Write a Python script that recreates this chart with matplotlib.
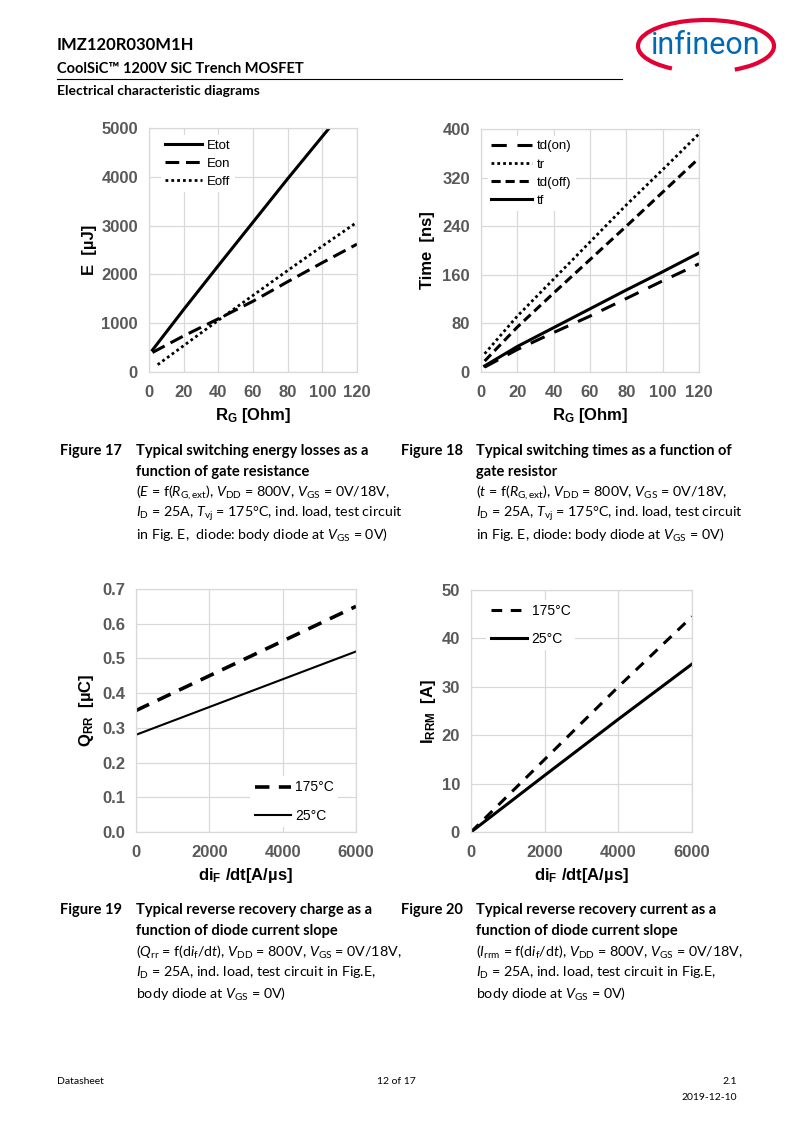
import matplotlib
matplotlib.use("Agg")
import matplotlib.pyplot as plt
from matplotlib.patches import Arc
from matplotlib.lines import Line2D

W, H = 793, 1122

plt.rcParams['font.family'] = ['Lato', 'DejaVu Sans']
plt.rcParams['mathtext.fontset'] = 'custom'
plt.rcParams['mathtext.rm'] = 'Lato'
plt.rcParams['mathtext.it'] = 'Lato:italic'
plt.rcParams['mathtext.bf'] = 'Lato:bold'

# ---- data ----
rg_etot = [2, 20, 40, 60, 80, 104]
etot = [450, 1280, 2180, 3070, 3960, 5000]
rg_eon = [2, 20, 40, 60, 80, 100, 120]
eon = [400, 740, 1090, 1450, 1850, 2240, 2620]
rg_eoff = [5, 20, 40, 60, 80, 100, 120]
eoff = [150, 540, 1060, 1570, 2080, 2580, 3070]

rg_t = [2, 20, 40, 60, 80, 100, 120]
td_on = [8, 37, 65, 92, 121, 150, 178]
t_r = [30, 92, 153, 214, 275, 333, 392]
td_off = [18, 74, 130, 185, 240, 296, 352]
t_f = [10, 42, 73, 104, 135, 165, 196]

didt = [0, 2000, 4000, 6000]
qrr_175 = [0.35, 0.45, 0.55, 0.65]
qrr_25 = [0.28, 0.36, 0.44, 0.52]
irrm_175 = [0, 15.0, 30.0, 44.5]
irrm_25 = [0, 11.7, 23.3, 34.7]

TICK_C = '#595959'
GRID_C = '#d9d9d9'
AX_FONT = 'Liberation Sans'


def px_axes(fig, x0, y0, x1, y1):
    return fig.add_axes([x0 / W, 1 - y1 / H, (x1 - x0) / W, (y1 - y0) / H])


def style(ax, xlim, ylim, xt, yt, yfmt=None):
    ax.set_xlim(*xlim)
    ax.set_ylim(*ylim)
    ax.set_xticks(xt)
    ax.set_yticks(yt)
    if yfmt:
        ax.set_yticklabels([yfmt.format(v) for v in yt])
    ax.grid(True, color=GRID_C, lw=0.9)
    ax.set_axisbelow(True)
    for s in ax.spines.values():
        s.set_color(GRID_C)
        s.set_linewidth(0.9)
    ax.tick_params(axis='x', length=0, pad=9.5, labelcolor=TICK_C, labelsize=12)
    ax.tick_params(axis='y', length=0, pad=8, labelcolor=TICK_C, labelsize=12)
    for lab in ax.get_xticklabels() + ax.get_yticklabels():
        lab.set_fontfamily(AX_FONT)
        lab.set_fontweight('bold')


def axlabels(ax, xl, yl, ylx, xly):
    ax.set_xlabel(xl, fontsize=12, fontweight='bold', family=AX_FONT)
    ax.set_ylabel(yl, fontsize=12, fontweight='bold', family=AX_FONT)
    ax.yaxis.set_label_coords(ylx, 0.5)
    ax.xaxis.set_label_coords(0.5, xly)


def legend(ax, loc, anchor, fs, hl, ls):
    leg = ax.legend(loc=loc, bbox_to_anchor=anchor, handlelength=hl,
                    labelspacing=ls, frameon=True, facecolor='white', edgecolor='none',
                    framealpha=1, borderpad=0.3, handletextpad=0.35, borderaxespad=0,
                    prop={'family': AX_FONT, 'size': fs})
    return leg


fig = plt.figure(figsize=(W / 100, H / 100), dpi=100)

# ---- Figure 17 ----
ax1 = px_axes(fig, 149, 128, 357, 372)
ax1.plot(rg_etot, etot, color='black', lw=2.2, label='Etot')
ax1.plot(rg_eon, eon, color='black', lw=2.2, dashes=(4.5, 2.2), label='Eon')
ax1.plot(rg_eoff, eoff, color='black', lw=2.0, dashes=(1, 1.1), label='Eoff')
style(ax1, (0, 120), (0, 5000), range(0, 121, 20), range(0, 5001, 1000))
axlabels(ax1, r'R$_\mathregular{G}$ [Ohm]', r'E  [µJ]', -0.25, -0.14)
legend(ax1, 'upper left', (0.06, 0.97), 9.5, 2.8, 0.45)

# ---- Figure 18 ----
ax2 = px_axes(fig, 481, 129, 699, 372)
ax2.plot(rg_t, td_on, color='black', lw=2.2, dashes=(5, 3.5), label='td(on)')
ax2.plot(rg_t, t_r, color='black', lw=2.0, dashes=(1, 1.1), label='tr')
ax2.plot(rg_t, td_off, color='black', lw=2.2, dashes=(3, 1.6), label='td(off)')
ax2.plot(rg_t, t_f, color='black', lw=2.2, label='tf')
style(ax2, (0, 120), (0, 400), range(0, 121, 20), range(0, 401, 80))
axlabels(ax2, r'R$_\mathregular{G}$ [Ohm]', r'Time  [ns]', -0.21, -0.14)
legend(ax2, 'upper left', (0.03, 0.97), 9.5, 3.1, 0.45)

# ---- Figure 19 ----
ax3 = px_axes(fig, 136, 589, 356, 832)
ax3.plot(didt, qrr_175, color='black', lw=2.6, dashes=(4, 2.6), label='175°C')
ax3.plot(didt, qrr_25, color='black', lw=1.5, label='25°C')
style(ax3, (0, 6000), (0, 0.7), range(0, 6001, 2000), [0, 0.1, 0.2, 0.3, 0.4, 0.5, 0.6, 0.7],
      yfmt='{:.1f}')
axlabels(ax3, r'di$_\mathregular{F}$ /dt[A/µs]', r'Q$_\mathregular{RR}$  [µC]', -0.18, -0.14)
legend(ax3, 'lower right', (0.92, 0.02), 10, 2.6, 1.05)

# ---- Figure 20 ----
ax4 = px_axes(fig, 471, 590, 692, 832)
ax4.plot(didt, irrm_175, color='black', lw=2.2, dashes=(3.5, 2.8), label='175°C')
ax4.plot(didt, irrm_25, color='black', lw=2.2, label='25°C')
style(ax4, (0, 6000), (0, 50), range(0, 6001, 2000), range(0, 51, 10))
axlabels(ax4, r'di$_\mathregular{F}$ /dt[A/µs]', r'I$_\mathregular{RRM}$  [A]', -0.15, -0.14)
legend(ax4, 'upper left', (0.07, 0.96), 10, 2.6, 1.0)

# ---- page header ----
def ptext(x, y, s, **kw):
    kw.setdefault('va', 'center')
    fig.text(x / W, 1 - y / H, s, **kw)

ptext(57, 45, 'IMZ120R030M1H', fontsize=12, fontweight='bold')
ptext(57, 69, 'CoolSiC™ 1200V SiC Trench MOSFET', fontsize=10.5, fontweight='bold')
fig.add_artist(Line2D([57 / W, 622 / W], [1 - 79 / H, 1 - 79 / H], color='black', lw=0.8))
ptext(57, 91, 'Electrical characteristic diagrams', fontsize=10, fontweight='bold')

# logo
ptext(706, 46, 'infineon', fontsize=22, color='#0069B4', ha='center', family='Roboto')
fig.add_artist(Arc((706 / W, 1 - 46 / H), 136 / W, 52 / H, theta1=-30, theta2=205,
                   transform=fig.transFigure, color='#E30034', lw=3))

# ---- captions ----
cap17 = [r'($E$ = f($R_{\mathrm{G,ext}}$), $V_{\mathrm{DD}}$ = 800V, $V_{\mathrm{GS}}$ = 0V/18V,',
         r'$I_{\mathrm{D}}$ = 25A, $T_{\mathrm{vj}}$ = 175°C, ind. load, test circuit',
         r'in Fig. E,  diode: body diode at $V_{\mathrm{GS}}$ = 0V)']
cap18 = [r'($t$ = f($R_{\mathrm{G,ext}}$), $V_{\mathrm{DD}}$ = 800V, $V_{\mathrm{GS}}$ = 0V/18V,',
         r'$I_{\mathrm{D}}$ = 25A, $T_{\mathrm{vj}}$ = 175°C, ind. load, test circuit',
         r'in Fig. E, diode: body diode at $V_{\mathrm{GS}}$ = 0V)']
cap19 = [r'($Q_{\mathrm{rr}}$ = f(d$i_{\mathrm{f}}$/d$t$), $V_{\mathrm{DD}}$ = 800V, $V_{\mathrm{GS}}$ = 0V/18V,',
         r'$I_{\mathrm{D}}$ = 25A, ind. load, test circuit in Fig.E,',
         r'body diode at $V_{\mathrm{GS}}$ = 0V)']
cap20 = [r'($I_{\mathrm{rrm}}$ = f(d$i_{\mathrm{f}}$/d$t$), $V_{\mathrm{DD}}$ = 800V, $V_{\mathrm{GS}}$ = 0V/18V,',
         r'$I_{\mathrm{D}}$ = 25A, ind. load, test circuit in Fig.E,',
         r'body diode at $V_{\mathrm{GS}}$ = 0V)']


def caption(x0, x1, y, num, title, lines):
    ptext(x0, y, num, fontsize=10.5, fontweight='bold')
    for i, t in enumerate(title):
        ptext(x1, y + 21 * i, t, fontsize=10.5, fontweight='bold')
    for i, t in enumerate(lines):
        ptext(x1, y + 42 + 21 * i, t, fontsize=10.3)


caption(60, 136, 451, 'Figure 17',
        ['Typical switching energy losses as a', 'function of gate resistance'], cap17)
caption(401, 476, 451, 'Figure 18',
        ['Typical switching times as a function of', 'gate resistor'], cap18)
caption(60, 136, 910, 'Figure 19',
        ['Typical reverse recovery charge as a', 'function of diode current slope'], cap19)
caption(401, 476, 910, 'Figure 20',
        ['Typical reverse recovery current as a', 'function of diode current slope'], cap20)

# ---- footer ----
ptext(57, 1082, 'Datasheet', fontsize=7.5)
ptext(396, 1082, '12 of 17', fontsize=7.5, ha='center')
ptext(737, 1082, '2.1', fontsize=7.5, ha='right')
ptext(737, 1097, '2019-12-10', fontsize=7.5, ha='right')

fig.savefig('out.png', dpi=100)
